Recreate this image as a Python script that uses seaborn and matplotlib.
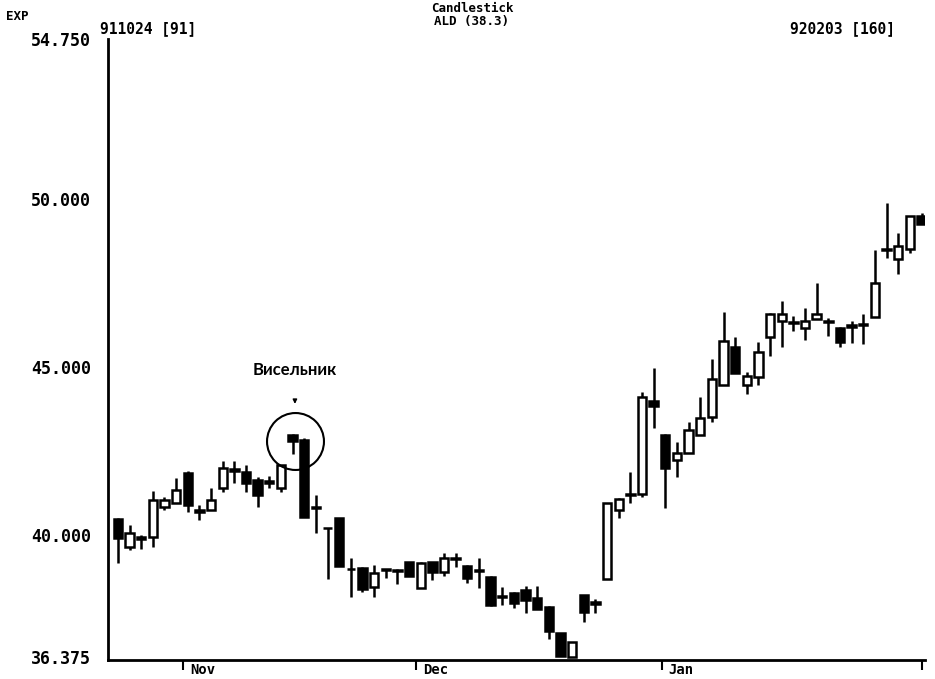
import numpy as np
import matplotlib
matplotlib.use("Agg")
import matplotlib.pyplot as plt
import matplotlib.transforms as mtransforms
import seaborn as sns

# OHLC, 70 trading days 911024 .. 920203
opens = [40.47, 39.64, 39.95, 39.94, 40.85, 40.95, 41.84, 40.70, 40.74, 41.39,
         41.92, 41.87, 41.63, 41.55, 41.39, 42.97, 42.82, 40.80, 40.20, 40.50,
         39.00, 39.02, 38.46, 38.98, 38.95, 39.20, 38.43, 39.20, 38.90, 39.30,
         39.08, 38.95, 38.75, 38.20, 38.28, 38.37, 38.13, 37.86, 37.09, 36.38,
         38.22, 37.95, 38.69, 40.74, 41.20, 41.22, 44.00, 42.97, 42.25, 42.43,
         42.97, 43.50, 44.45, 45.60, 44.45, 44.69, 45.90, 46.38, 46.35, 46.17,
         46.44, 46.35, 46.17, 46.20, 46.25, 46.50, 48.47, 48.22, 48.52, 49.50]
highs = [40.50, 40.30, 40.00, 41.31, 41.15, 41.69, 41.90, 40.90, 41.39, 42.20,
         42.20, 42.08, 41.72, 41.75, 42.10, 43.00, 42.88, 41.20, 40.22, 40.50,
         39.32, 39.05, 39.10, 39.00, 39.00, 39.20, 39.20, 39.20, 39.47, 39.47,
         39.10, 39.32, 38.78, 38.46, 38.30, 38.49, 38.49, 37.90, 37.10, 36.82,
         38.22, 38.10, 40.95, 41.10, 41.87, 44.25, 44.98, 43.00, 42.76, 43.35,
         44.12, 45.25, 46.62, 45.88, 44.84, 45.73, 46.60, 46.97, 46.53, 46.74,
         47.50, 46.47, 46.20, 46.38, 46.59, 48.49, 49.88, 48.99, 49.50, 49.58]
lows = [39.17, 39.55, 39.60, 39.64, 40.75, 40.95, 40.68, 40.45, 40.74, 41.28,
        41.55, 41.28, 40.83, 41.40, 41.28, 42.40, 40.53, 40.06, 38.70, 39.08,
        38.16, 38.30, 38.16, 38.72, 38.55, 38.80, 38.43, 38.67, 38.78, 39.05,
        38.57, 38.43, 37.90, 37.92, 37.83, 37.69, 37.80, 36.91, 36.40, 36.375,
        37.42, 37.69, 38.69, 40.50, 40.95, 41.13, 43.20, 40.80, 41.72, 42.43,
        42.97, 43.35, 44.45, 44.81, 44.20, 44.45, 45.34, 45.58, 46.08, 45.79,
        46.44, 45.93, 45.58, 45.70, 45.67, 46.50, 48.25, 47.77, 48.40, 49.26]
closes = [39.91, 40.06, 39.90, 41.04, 41.05, 41.34, 40.89, 40.75, 41.04, 41.99,
          41.98, 41.54, 41.19, 41.60, 42.08, 42.80, 40.53, 40.85, 40.20, 39.08,
          39.00, 38.40, 38.87, 39.00, 38.97, 38.80, 39.17, 38.90, 39.32, 39.32,
          38.72, 38.97, 37.92, 38.15, 37.98, 38.07, 37.80, 37.15, 36.40, 36.82,
          37.72, 38.00, 40.95, 41.07, 41.22, 44.10, 43.85, 41.99, 42.45, 43.12,
          43.47, 44.63, 45.76, 44.81, 44.72, 45.46, 46.59, 46.59, 46.32, 46.38,
          46.59, 46.38, 45.73, 46.25, 46.27, 47.50, 48.50, 48.60, 49.50, 49.26]

y_ticks = [36.375, 40.0, 45.0, 50.0, 54.75]
month_labels = ["Nov", "Dec", "Jan", ""]
month_pos = [5.6, 25.6, 46.7, 69.0]
hanging_man = 15

sns.set_style("white")
plt.rcParams["font.family"] = ["DejaVu Sans Mono", "DejaVu Sans"]
plt.rcParams["text.color"] = "black"
plt.rcParams["ytick.color"] = "black"
plt.rcParams["xtick.color"] = "black"

fig = plt.figure(figsize=(9.35, 6.79), dpi=100)
ax = fig.add_axes([108 / 935, 19 / 679, 817 / 935, 621 / 679])

x = np.arange(len(opens))
o = np.array(opens)
c = np.array(closes)
up = c >= o

ax.vlines(x, lows, highs, color="black", lw=1.8, zorder=1)
bottom = np.minimum(o, c)
height = np.abs(c - o)
ax.bar(x[up], height[up], bottom=bottom[up], width=0.72, facecolor="white",
       edgecolor="black", lw=1.8, zorder=2)
ax.bar(x[~up], height[~up], bottom=bottom[~up], width=0.72, facecolor="black",
       edgecolor="black", lw=1.8, zorder=2)

ax.set_xlim(-0.85, 69.3)
ax.set_ylim(36.29, 54.75)

ax.set_yticks(y_ticks)
ax.set_yticklabels(["%.3f" % v for v in y_ticks], fontweight="bold", fontsize=12)
ax.tick_params(axis="y", length=0, pad=12)

ax.set_xticks(month_pos)
ax.set_xticklabels([])
ax.tick_params(axis="x", direction="out", length=7, width=1.5, color="black",
               bottom=True)
trans = mtransforms.blended_transform_factory(ax.transData, ax.transAxes)
for pos, lab in zip(month_pos, month_labels):
    ax.text(pos + 0.6, -0.005, lab, transform=trans, ha="left", va="top",
            fontsize=10, fontweight="bold")

for side in ["top", "right"]:
    ax.spines[side].set_visible(False)
for side in ["left", "bottom"]:
    ax.spines[side].set_linewidth(2)
    ax.spines[side].set_color("black")

# hanging man annotation
hm_y = (highs[hanging_man] + lows[hanging_man]) / 2
ax.plot([hanging_man + 0.2], [hm_y + 0.1], marker="o", markersize=41,
        markerfacecolor="none", markeredgecolor="black", markeredgewidth=1.5,
        zorder=3)
ax.annotate("", xy=(hanging_man + 0.2, 43.82), xytext=(hanging_man + 0.2, 44.1),
            arrowprops=dict(arrowstyle="-|>", color="black", lw=1, mutation_scale=6))
ax.text(hanging_man + 0.2, 44.9, "Висельник", ha="center", va="center",
        fontsize=12, family=["Lato", "DejaVu Sans"], fontweight="bold")

# header texts
fig.text(6 / 935, 1 - 16 / 679, "EXP", fontsize=9, fontweight="bold", va="center")
fig.text(100 / 935, 1 - 29 / 679, "911024 [91]", fontsize=10.5, fontweight="bold", va="center")
fig.text(790 / 935, 1 - 29 / 679, "920203 [160]", fontsize=10.5, fontweight="bold", va="center")
fig.text(472 / 935, 1 - 9 / 679, "Candlestick", fontsize=9, fontweight="bold",
         va="center", ha="center")
fig.text(472 / 935, 1 - 22 / 679, "ALD (38.3)", fontsize=9, fontweight="bold",
         va="center", ha="center")

fig.savefig("out.png", dpi=100, facecolor="white")
